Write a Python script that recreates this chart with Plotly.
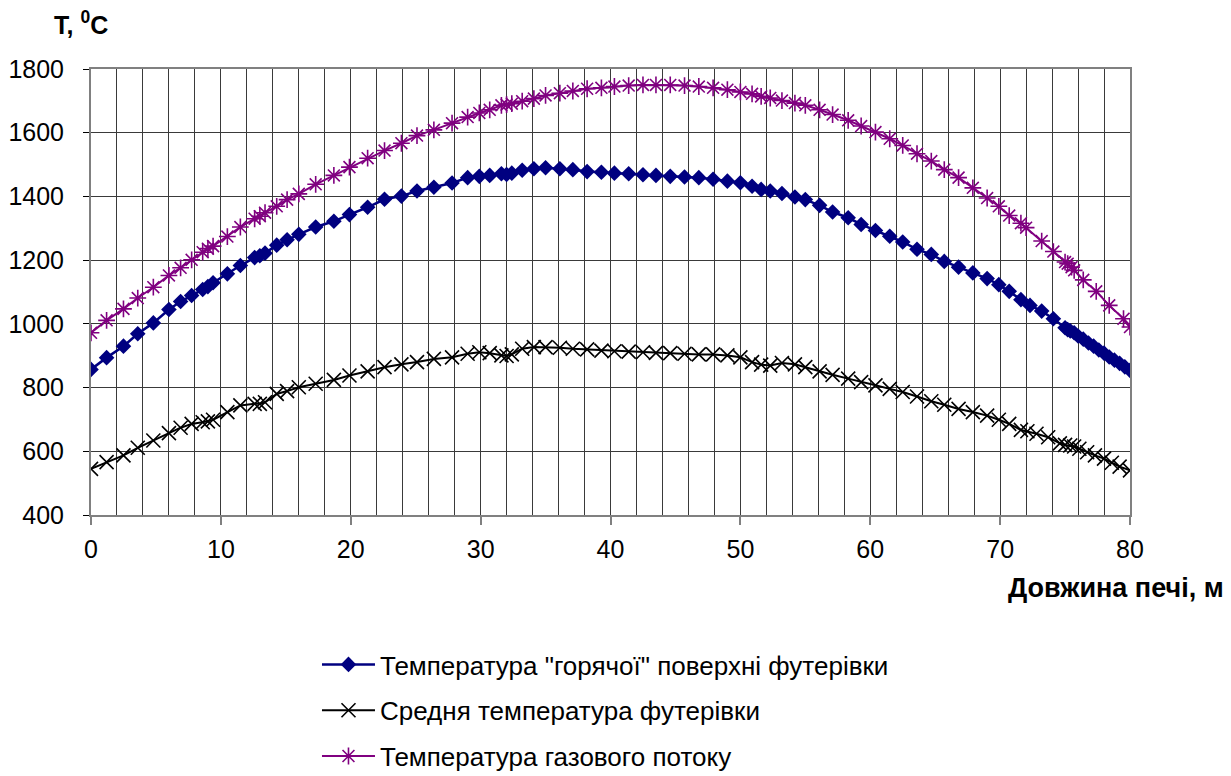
import plotly.graph_objects as go

# ---------------- data ----------------
x_hot = [0, 1.2, 2.5, 3.6, 4.8, 6.0, 6.9, 7.75, 8.6, 9.0, 9.4, 10.5, 11.5, 12.6, 13.0, 13.4,
         14.3, 15.1, 16.0, 17.3, 18.7, 19.9, 21.3, 22.6, 23.9, 25.1, 26.4, 27.8, 29.0, 29.9,
         30.7, 31.6, 32.0, 32.4, 33.2, 34.1, 35.0, 36.1, 37.1, 38.2, 39.3, 40.3, 41.4, 42.5,
         43.5, 44.6, 45.7, 46.8, 47.9, 49.0, 50.0, 50.9, 51.6, 52.3, 53.2, 54.2, 55.0, 56.1,
         57.1, 58.3, 59.3, 60.4, 61.5, 62.5, 63.6, 64.7, 65.7, 66.8, 67.9, 69.0, 69.9, 70.7,
         71.6, 72.3, 73.2, 74.1, 75.0, 75.2, 75.4, 75.7, 76.0, 76.4, 76.8, 77.2, 77.6, 78.0,
         78.4, 78.8, 79.2, 79.6, 80.0]
t_hot = [857, 894, 930, 969, 1003, 1045, 1070, 1089, 1108, 1117, 1129, 1157, 1183, 1208, 1214, 1222,
         1247, 1264, 1281, 1304, 1322, 1343, 1366, 1391, 1401, 1417, 1429, 1442, 1459, 1463,
         1466, 1471, 1469, 1473, 1482, 1487, 1490, 1487, 1484, 1478, 1476, 1473, 1471, 1468,
         1466, 1463, 1461, 1459, 1454, 1448, 1443, 1432, 1422, 1417, 1409, 1398, 1390, 1372,
         1351, 1333, 1312, 1293, 1275, 1257, 1234, 1218, 1196, 1178, 1160, 1142, 1123, 1102,
         1076, 1058, 1040, 1016, 988, 982, 978, 972, 962, 952, 940, 930, 918, 908,
         896, 886, 876, 865, 854]

x_mid = [0, 1.2, 2.5, 3.6, 4.8, 6.0, 6.9, 7.75, 8.6, 9.0, 9.4, 10.5, 11.5, 12.6, 13.0, 13.4,
         14.3, 15.1, 16.0, 17.3, 18.7, 19.9, 21.3, 22.6, 23.9, 25.1, 26.4, 27.8, 29.0, 29.9,
         30.7, 31.6, 32.0, 32.4, 33.2, 34.1, 35.0, 36.1, 37.1, 38.2, 39.3, 40.3, 41.4, 42.5,
         43.5, 44.6, 45.7, 46.8, 47.9, 49.0, 50.0, 50.9, 51.6, 52.3, 53.2, 54.2, 55.0, 56.1,
         57.1, 58.3, 59.3, 60.4, 61.5, 62.5, 63.6, 64.7, 65.7, 66.8, 67.9, 69.0, 69.9, 70.7,
         71.6, 72.1, 72.8, 73.7, 74.6, 75.0, 75.4, 75.7, 76.1, 76.7, 77.3, 78.0, 78.6, 79.2, 80.0]
t_mid = [545, 566, 587, 611, 634, 657, 674, 686, 691, 694, 699, 723, 744, 749, 749, 754,
         780, 789, 801, 812, 824, 838, 851, 864, 873, 880, 890, 895, 906, 911,
         908, 901, 899, 904, 922, 927, 927, 925, 922, 920, 916, 914, 913, 911,
         909, 908, 906, 904, 904, 901, 895, 880, 872, 869, 877, 873, 864, 851,
         840, 828, 817, 807, 796, 786, 772, 757, 746, 733, 723, 712, 699, 686,
         667, 663, 655, 644, 625, 620, 618, 615, 608, 597, 587, 577, 564, 552, 540]

x_gas = [0, 1.2, 2.5, 3.6, 4.8, 6.0, 6.9, 7.75, 8.6, 9.0, 9.4, 10.5, 11.5, 12.6, 13.0, 13.4,
         14.3, 15.1, 16.0, 17.3, 18.7, 19.9, 21.3, 22.6, 23.9, 25.1, 26.4, 27.8, 29.0, 29.9,
         30.7, 31.6, 32.0, 32.4, 33.2, 34.1, 35.0, 36.1, 37.1, 38.2, 39.3, 40.3, 41.4, 42.5,
         43.5, 44.6, 45.7, 46.8, 47.9, 49.0, 50.0, 50.9, 51.6, 52.3, 53.2, 54.2, 55.0, 56.1,
         57.1, 58.3, 59.3, 60.4, 61.5, 62.5, 63.6, 64.7, 65.7, 66.8, 67.9, 69.0, 69.9, 70.7,
         71.6, 72.0, 73.2, 74.1, 75.0, 75.2, 75.5, 75.7, 76.4, 77.4, 78.4, 79.5, 80.0]
t_gas = [972, 1011, 1047, 1081, 1115, 1152, 1176, 1201, 1225, 1236, 1244, 1274, 1304, 1330, 1338, 1349,
         1369, 1390, 1408, 1438, 1466, 1492, 1520, 1544, 1567, 1591, 1609, 1630, 1649, 1662,
         1672, 1686, 1688, 1691, 1699, 1707, 1717, 1724, 1731, 1738, 1741, 1745, 1748, 1750,
         1750, 1750, 1748, 1745, 1741, 1735, 1728, 1722, 1714, 1709, 1701, 1693, 1686, 1672,
         1657, 1639, 1621, 1602, 1581, 1560, 1534, 1511, 1484, 1459, 1427, 1395, 1369, 1340,
         1316, 1302, 1260, 1227, 1194, 1189, 1178, 1168, 1138, 1102, 1058, 1016, 990]

names = ['Температура "горячої" поверхні футерівки',
         'Средня температура футерівки',
         'Температура газового потоку']
x_ticks = [0, 10, 20, 30, 40, 50, 60, 70, 80]
y_ticks = [400, 600, 800, 1000, 1200, 1400, 1600, 1800]

FONT = "Liberation Sans, Arial, sans-serif"

fig = go.Figure()
fig.add_trace(go.Scatter(
    x=x_hot, y=t_hot, mode="lines+markers", name=names[0], legendgroup="a",
    line=dict(color="#000080", width=2.5),
    marker=dict(symbol="diamond", size=12, color="#000080")))
fig.add_trace(go.Scatter(
    x=x_mid, y=t_mid, mode="lines+markers", name=names[1], legendgroup="b",
    line=dict(color="#000000", width=2),
    marker=dict(symbol="x-thin-open", size=14, color="#000000",
                line=dict(color="#000000", width=1.6))))
fig.add_trace(go.Scatter(
    x=x_gas, y=t_gas, mode="lines+markers", name=names[2], legendgroup="c",
    line=dict(color="#800080", width=2),
    marker=dict(symbol="asterisk-open", size=14, color="#800080",
                line=dict(color="#800080", width=1.6))))

# page body has an 8px margin: plot area spans screen x 91..1130, y 69..515
fig.update_layout(
    width=1223, height=800,
    paper_bgcolor="white", plot_bgcolor="white",
    margin=dict(l=83, r=101, t=61, b=293, autoexpand=False),
    font=dict(family=FONT, size=25, color="black"),
    showlegend=True,
    legend=dict(x=0.2175, y=-0.2825, xanchor="left", yanchor="top",
                orientation="v", traceorder="grouped", tracegroupgap=9,
                itemwidth=53,
                font=dict(family=FONT, size=26, color="black"),
                bgcolor="rgba(0,0,0,0)"),
    xaxis=dict(range=[0, 80], tickvals=x_ticks, ticks="outside", ticklen=8,
               tickcolor="#808080", tickwidth=1.5,
               showline=True, linecolor="#808080", linewidth=2, mirror=True,
               showgrid=True, gridcolor="#3a3a3a", gridwidth=1,
               minor=dict(dtick=2, showgrid=True, gridcolor="#3a3a3a", gridwidth=1),
               zeroline=False, tickfont=dict(size=25), ticklabelstandoff=3),
    yaxis=dict(range=[400, 1800], tickvals=y_ticks, ticks="outside", ticklen=6,
               tickcolor="black", tickwidth=1,
               showline=True, linecolor="#808080", linewidth=2, mirror=True,
               showgrid=True, gridcolor="#3a3a3a", gridwidth=1,
               zeroline=False, tickfont=dict(size=25), ticklabelstandoff=14),
)

fig.add_annotation(text="<b>T, <sup>0</sup>C</b>", xref="paper", yref="paper",
                   x=-0.0375, y=1.104, xanchor="left", yanchor="middle",
                   showarrow=False, font=dict(family=FONT, size=25, color="black"))
fig.add_annotation(text="<b>Довжина печі, м</b>", xref="paper", yref="paper",
                   x=1.092, y=-0.164, xanchor="right", yanchor="middle",
                   showarrow=False, font=dict(family=FONT, size=27, color="black"))

fig.write_html("out.html")
